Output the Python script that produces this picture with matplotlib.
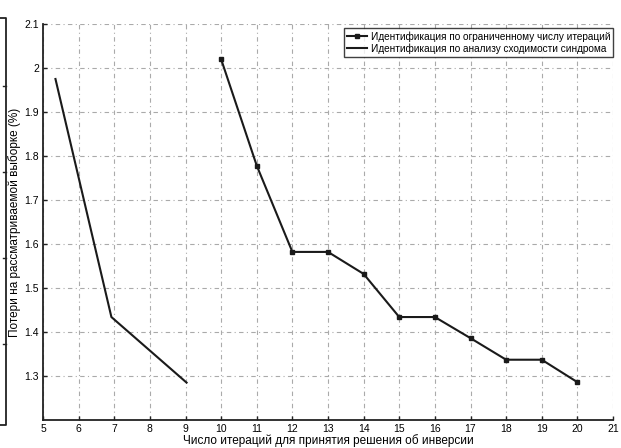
import matplotlib
matplotlib.use("Agg")
import matplotlib.pyplot as plt
from matplotlib.lines import Line2D

plt.rcParams['font.family'] = ['Liberation Sans', 'DejaVu Sans']

# Data
x_limited = [10, 11, 12, 13, 14, 15, 16, 17, 18, 19, 20]
y_limited = [2.02, 1.778, 1.582, 1.582, 1.532, 1.434, 1.434, 1.386, 1.337, 1.337, 1.286]
x_syndrome = [5.35, 6.92, 9.03]
y_syndrome = [1.975, 1.434, 1.285]
x_ticks = list(range(5, 22))
y_ticks = [1.3, 1.4, 1.5, 1.6, 1.7, 1.8, 1.9, 2.0, 2.1]
y_tick_labels = ['1.3', '1.4', '1.5', '1.6', '1.7', '1.8', '1.9', '2', '2.1']
label_limited = 'Идентификация по ограниченному числу итераций'
label_syndrome = 'Идентификация по анализу сходимости синдрома'
xlabel = 'Число итераций для принятия решения об инверсии'
ylabel = 'Потери на рассматриваемой выборке (%)'

fig = plt.figure(figsize=(6.21, 4.48), dpi=100)
ax = fig.add_axes([43/621, 28/448, 570/621, 396/448])

ax.plot(x_limited, y_limited, color='#1a1a1a', lw=1.5, marker='s', ms=3.5,
        label=label_limited)
ax.plot(x_syndrome, y_syndrome, color='#1a1a1a', lw=1.5, label=label_syndrome)

ax.set_xlim(5, 21)
ax.set_ylim(1.2, 2.1)
ax.set_xticks(x_ticks)
ax.set_xticklabels([str(v) for v in x_ticks], fontsize=7.5)
ax.set_yticks(y_ticks)
ax.set_yticklabels(y_tick_labels, fontsize=7.5)
ax.tick_params(direction='in', length=3, width=1, pad=3, color='#222222')
ax.grid(True, linestyle=(0, (4, 3, 1, 3)), color='#aaaaaa', lw=0.8)
for s in ['top', 'right']:
    ax.spines[s].set_visible(False)
for s in ['left', 'bottom']:
    ax.spines[s].set_linewidth(1.3)
    ax.spines[s].set_color('#222222')

ax.set_xlabel(xlabel, fontsize=8.5, labelpad=0)
ax.set_ylabel(ylabel, fontsize=8.5, labelpad=2)

leg = ax.legend(loc='upper right', bbox_to_anchor=(1.006, 0.997), fontsize=7.2,
                frameon=True, fancybox=False, edgecolor='#111111',
                handlelength=2.0, borderpad=0.3, labelspacing=0.15,
                handletextpad=0.4, borderaxespad=0.3)
leg.get_frame().set_linewidth(1.0)

# left edge fragment of a neighbouring figure
fig.add_artist(Line2D([0, 6/621, 6/621, 0], [1 - 18/448, 1 - 18/448, 1 - 425/448, 1 - 425/448],
                      transform=fig.transFigure, color='#222222', lw=1.3))
for yy in [86, 172, 258, 344]:
    fig.add_artist(Line2D([3/621, 6/621], [1 - yy/448, 1 - yy/448],
                          transform=fig.transFigure, color='#222222', lw=1.0))

fig.savefig('out.png', dpi=100)
